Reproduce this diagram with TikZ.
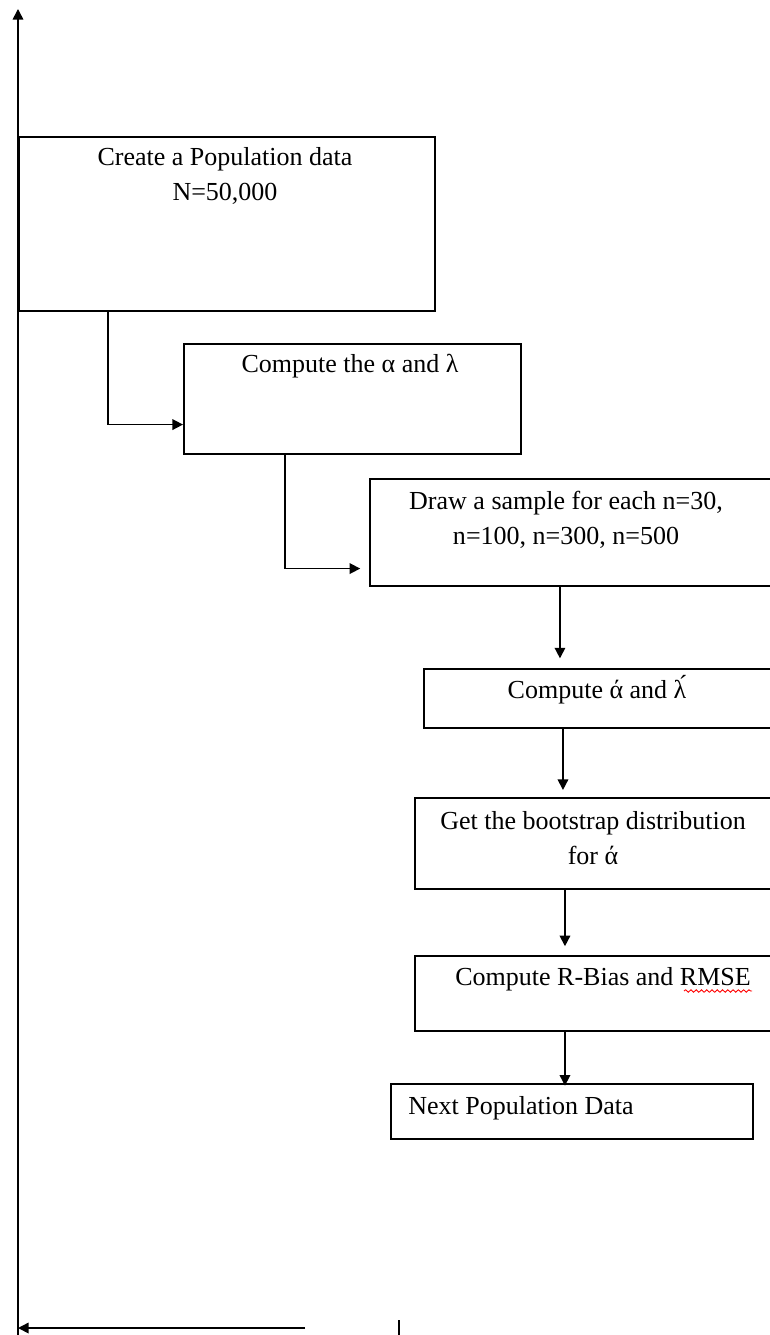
\documentclass[tikz,border=0pt]{standalone}
\usepackage{fontspec}
\setmainfont{Liberation Serif}
\usetikzlibrary{arrows.meta,decorations.pathmorphing}
\tikzset{
  box/.style={draw, line width=0.9pt, rectangle, anchor=north west, inner sep=0pt},
  txt/.style={font=\fontsize{14.8}{20}\selectfont, align=center, inner sep=0pt},
  arr/.style={line width=0.9pt, -{Triangle[length=6pt,width=6pt]}},
  ln/.style={line width=0.9pt}
}
\begin{document}
\begin{tikzpicture}[x=0.02cm,y=-0.02cm]
\useasboundingbox (0,0) rectangle (770,1335);
\clip (0,0) rectangle (770,1335);
% boxes
\node[box, minimum width=8.32cm, minimum height=3.48cm] (b1) at (18,136) {};
\node[box, minimum width=6.74cm, minimum height=2.20cm] (b2) at (183,343) {};
\node[box, minimum width=8.62cm, minimum height=2.14cm] (b3) at (369,478) {};
\node[box, minimum width=7.54cm, minimum height=1.18cm] (b4) at (423,668) {};
\node[box, minimum width=7.72cm, minimum height=1.82cm] (b5) at (414,797) {};
\node[box, minimum width=7.72cm, minimum height=1.50cm] (b6) at (414,955) {};
\node[box, minimum width=7.24cm, minimum height=1.10cm] (b7) at (390,1083) {};
% texts
\node[txt] (t1) at (225,176) {Create a Population data\\N=50,000};
\node[txt] (t2) at (350,366) {Compute the α and λ};
\node[txt] (t3) at (566,520) {Draw a sample for each n=30,\\n=100, n=300, n=500};
\node[txt] (t4) at (597,690) {Compute ά and λ́};
\node[txt] (t5) at (593,838) {Get the bootstrap distribution\\for ά};
\node[txt, anchor=west] (t6) at (455,979) {Compute R-Bias and RMSE};
\node[txt, anchor=west] (t7) at (408,1108) {Next Population Data};
% spell-check underline
\coordinate (u1) at (684,991);
\coordinate (u2) at (752,991);
\draw[red, line width=0.5pt, decorate, decoration={snake, segment length=3pt, amplitude=0.7pt}] (u1) -- (u2);
% connectors
\coordinate (p1) at ([xshift=1.8cm]b1.south west);
\draw[arr] (p1) |- ([yshift=0.6cm]b2.south west);
\coordinate (p2) at ([xshift=2.04cm]b2.south west);
\draw[arr, shorten >=5pt] (p2) |- ([yshift=0.36cm]b3.south west);
\coordinate (p3) at ([xshift=3.82cm]b3.south west);
\draw[arr, shorten >=5.5pt] (p3) -- (p3 |- b4.north);
\coordinate (p4) at ([xshift=2.8cm]b4.south west);
\draw[arr, shorten >=4pt] (p4) -- (p4 |- b5.north);
\coordinate (p5) at ([xshift=3.02cm]b5.south west);
\draw[arr, shorten >=5pt] (p5) -- (p5 |- b6.north);
\coordinate (p6) at ([xshift=3.02cm]b6.south west);
\draw[arr, shorten >=-1.5pt] (p6) -- (p6 |- b7.north);
% outer loop axes
\coordinate (vb) at (18,1335);
\coordinate (vt) at (18,9);
\draw[arr] (vb) -- (vt);
\coordinate (hr) at (305,1328);
\coordinate (hl) at (18,1328);
\draw[arr] (hr) -- (hl);
\coordinate (k1) at (399,1320);
\coordinate (k2) at (399,1335);
\draw[line width=0.7pt] (k1) -- (k2);
\end{tikzpicture}
\end{document}
